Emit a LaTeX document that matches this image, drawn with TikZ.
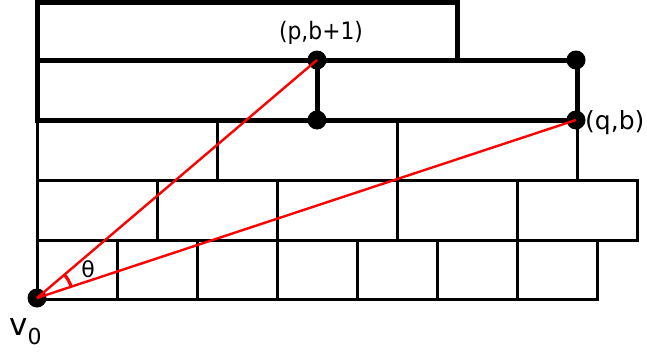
\documentclass[tikz,border=0pt]{standalone}
\usepackage{fontspec}
\setmainfont{DejaVu Sans}
\newfontfamily\narrowfont[FakeStretch=0.91]{DejaVu Sans}
\begin{document}
\begin{tikzpicture}[x=1pt,y=1pt,
  thinline/.style={line width=3pt, line join=miter},
  thickline/.style={line width=5pt, line join=miter},
  dotnode/.style={circle, fill=black, inner sep=0pt, minimum size=19pt},
  ray/.style={red, line width=2.4pt},
  lbl/.style={inner sep=0pt, font=\fontsize{22}{22}\selectfont}]
\useasboundingbox (0,0) rectangle (647,-351);
% bottom row
\foreach \a/\b in {37/117,117/197,197/277,277/357,357/437,437/517,517/597}
  \draw[thinline] (\a,-299) rectangle (\b,-240);
% second row
\foreach \a/\b in {37/157,157/277,277/397,397/517,517/637}
  \draw[thinline] (\a,-240) rectangle (\b,-180);
% third row
\foreach \a/\b in {37/217,217/397,397/577}
  \draw[thinline] (\a,-180) rectangle (\b,-120);
% fourth row (thick)
\draw[thickline] (37,-120) rectangle (577,-60);
% top row (thick)
\draw[thickline] (37,-60) rectangle (457,-2.5);
% dots
\node[dotnode] (v0) at (37,-298) {};
\node[dotnode] (p) at (317,-60) {};
\node[dotnode] (pb) at (317,-120) {};
\node[dotnode] (q) at (576,-120) {};
\node[dotnode] (qt) at (576,-60) {};
\draw[thickline] (p.center) -- (pb.center);
\draw[thinline] (qt.center) -- (q.center);
% rays
\draw[ray] (v0.center) -- (p.center);
\draw[ray] (v0.center) -- (q.center);
\draw[red, line width=3.2pt] (37,-298) ++(18.3:36) arc[start angle=18.3, end angle=40.4, radius=36];
% labels
\node[lbl, font=\narrowfont\fontsize{24}{24}\selectfont] (plbl) at (321,-33) {(p,b+1)};
\node[lbl, anchor=west, font=\fontsize{25}{25}\selectfont] (qlbl) at (585,-123) {(q,b)};
\node[lbl, font=\fontsize{22}{22}\selectfont] (theta) at (88,-269) {θ};
\node[lbl, anchor=base west, font=\fontsize{31}{31}\selectfont] (vlbl) at (9,-335) {v\raisebox{-9pt}{\fontsize{22}{22}\selectfont 0}};
\end{tikzpicture}
\end{document}
